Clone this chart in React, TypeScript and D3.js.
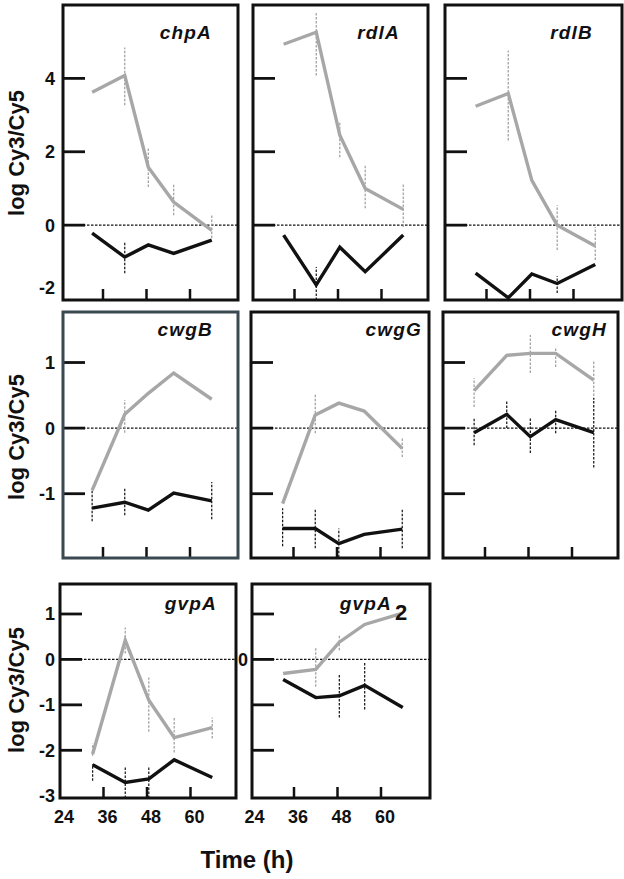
import React from 'react';
import * as d3 from 'd3';

// ---- data ----
const times = [33, 42, 48.5, 55.5, 66];
const xTickValues = [36, 48, 60];
const xTickLabels = [24, 36, 48, 60];

const yTicksTop = [4, 2, 0];
const yLabelsTop = [4, 2, 0, -2];
const yTicksMid = [1, 0, -1];
const yLabelsMid = [1, 0, -1];
const yTicksBottom = [1, 0, -1, -2];
const yLabelsBottom = [1, 0, -1, -2, -3];

const chpAGray = [3.62, 4.08, 1.58, 0.63, -0.14];
const chpABlack = [-0.22, -0.87, -0.54, -0.77, -0.41];
const chpAGrayErr = [[1, 3.27, 4.84], [2, 1.04, 2.12], [3, 0.27, 1.14], [4, -0.35, 0.27]];
const chpABlackErr = [[1, -1.31, -0.46]];

const rdlAGray = [4.93, 5.26, 2.45, 1.0, 0.43];
const rdlABlack = [-0.27, -1.63, -0.6, -1.27, -0.27];
const rdlAGrayErr = [[1, 4.08, 5.8], [2, 1.85, 2.8], [3, 0.46, 1.63], [4, -0.05, 1.14]];
const rdlABlackErr = [[1, -2.04, -1.14]];

const rdlBGray = [3.24, 3.59, 1.22, 0.0, -0.57];
const rdlBBlack = [-1.31, -1.98, -1.33, -1.59, -1.07];
const rdlBGrayErr = [[1, 2.31, 4.76], [3, -0.68, 0.54], [4, -0.95, -0.05]];
const rdlBBlackErr = [[3, -1.85, -1.39]];

const cwgBGray = [-0.95, 0.21, 0.53, 0.84, 0.44];
const cwgBBlack = [-1.22, -1.13, -1.25, -0.99, -1.11];
const cwgBGrayErr = [[1, -0.07, 0.43]];
const cwgBBlackErr = [[0, -1.42, -0.95], [1, -1.33, -0.92], [4, -1.39, -0.82]];

const cwgGGray = [-1.15, 0.2, 0.38, 0.26, -0.31];
const cwgGBlack = [-1.53, -1.53, -1.76, -1.62, -1.54];
const cwgGGrayErr = [[1, -0.08, 0.52], [4, -0.44, -0.15]];
const cwgGBlackErr = [[0, -1.8, -1.22], [1, -1.83, -1.22], [2, -1.97, -1.53], [4, -1.83, -1.24]];

const cwgHGray = [0.57, 1.11, 1.14, 1.14, 0.73];
const cwgHBlack = [-0.07, 0.21, -0.13, 0.13, -0.07];
const cwgHGrayErr = [[0, 0.32, 0.76], [2, 0.84, 1.42], [3, 0.93, 1.24], [4, 0.43, 1.04]];
const cwgHBlackErr = [[0, -0.26, 0.15], [1, 0.0, 0.43], [2, -0.38, 0.17], [3, -0.08, 0.27], [4, -0.6, 0.46]];

const gvpAGray = [-2.08, 0.42, -0.9, -1.72, -1.5];
const gvpABlack = [-2.32, -2.71, -2.63, -2.21, -2.6];
const gvpAGrayErr = [[0, -2.12, -1.85], [1, 0.13, 0.7], [2, -1.59, -0.4], [3, -2.05, -1.26], [4, -1.74, -1.28]];
const gvpABlackErr = [[0, -2.67, -2.3], [1, -3.05, -2.38], [2, -3.05, -2.38]];

const gvpA2Gray = [-0.31, -0.22, 0.38, 0.77, 1.02];
const gvpA2Black = [-0.44, -0.84, -0.8, -0.57, -1.06];
const gvpA2GrayErr = [[1, -0.6, 0.27], [2, 0.2, 0.53]];
const gvpA2BlackErr = [[2, -1.28, -0.31], [3, -1.1, -0.08]];

// ---- layout ----
const FONT = "'Liberation Sans', Arial, Helvetica, sans-serif";
const GRAY = '#a7a7a7';
const GRAY_ERR = '#9c9c9c';
const BLACK = '#111111';

const rows = [
  { y0: 5, y1: 300, domain: [-2.04, 6.0], ticks: yTicksTop, labels: yLabelsTop, labelBaseline: 39, titleY: 153 },
  { y0: 312, y1: 558, domain: [-1.98, 1.77], ticks: yTicksMid, labels: yLabelsMid, labelBaseline: 336, titleY: 437 },
  { y0: 584, y1: 798, domain: [-3.05, 1.66], ticks: yTicksBottom, labels: yLabelsBottom, labelBaseline: 610, titleY: 690 },
];

const panels = [
  { gene: 'chpA', row: 0, x0: 63, x1: 238, xLeft: 59.5, labelRight: 212, gray: chpAGray, black: chpABlack, grayErr: chpAGrayErr, blackErr: chpABlackErr, yLabels: true },
  { gene: 'rdlA', row: 0, x0: 253, x1: 428, xLeft: 251, labelRight: 400, gray: rdlAGray, black: rdlABlack, grayErr: rdlAGrayErr, blackErr: rdlABlackErr },
  { gene: 'rdlB', row: 0, x0: 445, x1: 622, xLeft: 443, labelRight: 593, gray: rdlBGray, black: rdlBBlack, grayErr: rdlBGrayErr, blackErr: rdlBBlackErr },
  { gene: 'cwgB', row: 1, x0: 63, x1: 238, xLeft: 59.5, labelRight: 213, gray: cwgBGray, black: cwgBBlack, grayErr: cwgBGrayErr, blackErr: cwgBBlackErr, yLabels: true, frame: '#3b4950' },
  { gene: 'cwgG', row: 1, x0: 251, x1: 429, xLeft: 250, labelRight: 422, gray: cwgGGray, black: cwgGBlack, grayErr: cwgGGrayErr, blackErr: cwgGBlackErr },
  { gene: 'cwgH', row: 1, x0: 443, x1: 618, xLeft: 441.5, labelRight: 607, gray: cwgHGray, black: cwgHBlack, grayErr: cwgHGrayErr, blackErr: cwgHBlackErr },
  { gene: 'gvpA', row: 2, x0: 60, x1: 236, xLeft: 60, labelRight: 217, gray: gvpAGray, black: gvpABlack, grayErr: gvpAGrayErr, blackErr: gvpABlackErr, yLabels: true, xLabels: true },
  { gene: 'gvpA', sub: '2', row: 2, x0: 252, x1: 430, xLeft: 250.5, labelRight: 392, gray: gvpA2Gray, black: gvpA2Black, grayErr: gvpA2GrayErr, blackErr: gvpA2BlackErr, zeroLabel: true, xLabels: true },
];

function Panel({ p }: { p: any }) {
  const r = rows[p.row];
  const x = d3.scaleLinear().domain([24, 72]).range([p.xLeft, p.xLeft + 174]);
  const y = d3.scaleLinear().domain(r.domain).range([r.y1, r.y0]);
  const line = d3.line<number>().x((_, i) => x(times[i])).y((d) => y(d));
  const clamp = (v: number) => Math.max(r.y0, Math.min(r.y1, y(v)));
  const frameColor = p.frame || BLACK;
  return (
    <g>
      <line x1={p.x0} x2={p.x1} y1={y(0)} y2={y(0)} stroke={BLACK} strokeWidth={1.1} strokeDasharray="2.5,1.5" />
      {r.ticks.map((t: number) => (
        <line key={'yt' + t} x1={p.x0} x2={p.x0 + 22} y1={y(t)} y2={y(t)} stroke={BLACK} strokeWidth={2.8} />
      ))}
      {xTickValues.map((t) => (
        <line key={'xt' + t} x1={x(t)} x2={x(t)} y1={r.y1} y2={r.y1 - 11} stroke={BLACK} strokeWidth={2.5} />
      ))}
      {p.grayErr.map((e: number[], i: number) => (
        <line key={'ge' + i} x1={x(times[e[0]])} x2={x(times[e[0]])} y1={clamp(e[1])} y2={clamp(e[2])} stroke={GRAY_ERR} strokeWidth={1.2} strokeDasharray="2.5,1.5" />
      ))}
      {p.blackErr.map((e: number[], i: number) => (
        <line key={'be' + i} x1={x(times[e[0]])} x2={x(times[e[0]])} y1={clamp(e[1])} y2={clamp(e[2])} stroke={BLACK} strokeWidth={1.2} strokeDasharray="2.5,1.5" />
      ))}
      <path d={line(p.gray) || ''} fill="none" stroke={GRAY} strokeWidth={3.4} strokeLinejoin="miter" />
      <path d={line(p.black) || ''} fill="none" stroke={BLACK} strokeWidth={3.4} strokeLinejoin="miter" />
      <rect x={p.x0} y={r.y0} width={p.x1 - p.x0} height={r.y1 - r.y0} fill="none" stroke={frameColor} strokeWidth={3} />
      <text x={p.labelRight} y={r.labelBaseline} textAnchor="end" fontFamily={FONT} fontWeight="bold" fontStyle="italic" fontSize={19} letterSpacing={1.2} fill={BLACK}>
        {p.gene}
      </text>
      {p.sub && (
        <text x={p.labelRight + 3} y={r.labelBaseline + 10} fontFamily={FONT} fontWeight="bold" fontSize={22} fill={BLACK}>
          {p.sub}
        </text>
      )}
      {p.yLabels && r.labels.map((t: number) => {
        let yy = y(t);
        if (p.row === 0 && t === -2) yy -= 11;
        return (
          <text key={'yl' + t} x={55} y={yy} dy="0.36em" textAnchor="end" fontFamily={FONT} fontWeight="bold" fontSize={18} fill={BLACK}>
            {t}
          </text>
        );
      })}
      {p.zeroLabel && (
        <text x={248} y={y(0)} dy="0.36em" textAnchor="end" fontFamily={FONT} fontWeight="bold" fontSize={18} fill={BLACK}>0</text>
      )}
      {p.xLabels && xTickLabels.map((t) => (
        <text key={'xl' + t} x={x(t) + 4} y={r.y1 + 25} textAnchor="middle" fontFamily={FONT} fontWeight="bold" fontSize={18} fill={BLACK}>
          {t}
        </text>
      ))}
    </g>
  );
}

export default function App() {
  return (
    <svg width={624} height={879} viewBox="0 0 624 879" style={{ position: 'absolute', left: 0, top: 0, background: '#fff' }}>
      <rect x={0} y={0} width={624} height={879} fill="#fff" />
      {rows.map((r, i) => (
        <text key={'title' + i} transform={`translate(24,${r.titleY}) rotate(-90)`} textAnchor="middle" fontFamily={FONT} fontWeight="bold" fontSize={22} fill={BLACK}>
          log Cy3/Cy5
        </text>
      ))}
      {panels.map((p, i) => (
        <Panel key={i} p={p} />
      ))}
      <text x={247} y={868} textAnchor="middle" fontFamily={FONT} fontWeight="bold" fontSize={24} fill={BLACK}>
        Time (h)
      </text>
    </svg>
  );
}
